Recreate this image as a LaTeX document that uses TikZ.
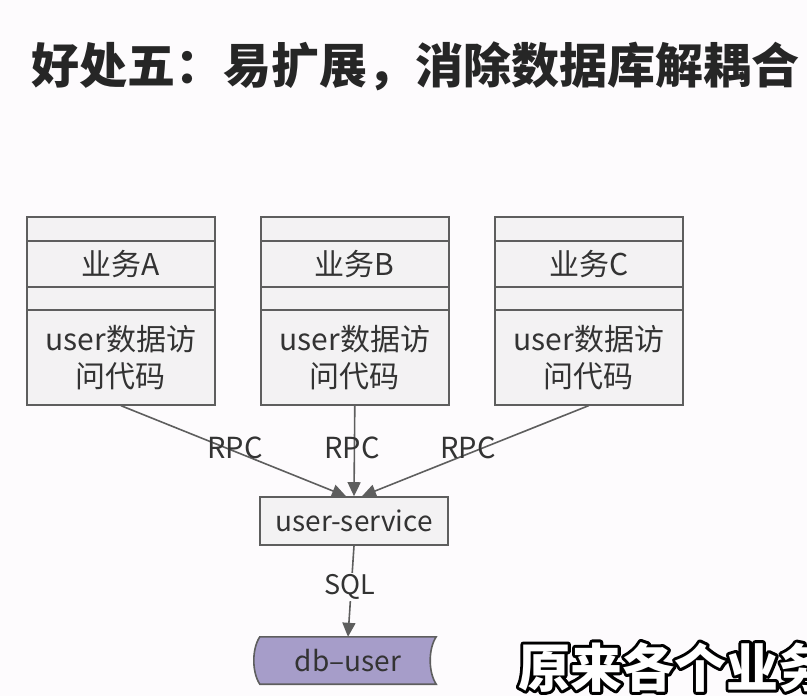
\documentclass[tikz,border=0pt]{standalone}
\usepackage{fontspec}
\setmainfont{Noto Sans CJK SC}
\usetikzlibrary{arrows.meta,calc}
\definecolor{bgcol}{HTML}{FDFBFD}
\definecolor{boxline}{HTML}{5E5E5E}
\definecolor{boxfill}{HTML}{F3F2F3}
\definecolor{txt}{HTML}{333333}
\definecolor{dbfill}{HTML}{A69DC9}
% white text with a black outline: a stroked copy under a filled one
\newcommand\outlinedtext[1]{%
  \rlap{\special{pdf:literal direct q 0 G 6 w 1 j 1 Tr}#1\special{pdf:literal direct 0 Tr Q}}%
  {\color{white}#1}}
\begin{document}
\begin{tikzpicture}[x=1pt,y=-1pt,
  row/.style={draw=boxline, line width=1.6pt, fill=boxfill, minimum width=188pt,
    inner sep=0pt, anchor=north west, text=txt, font=\fontsize{30}{37}\selectfont, align=center},
  svcbox/.style={draw=boxline, line width=1.6pt, fill=boxfill, minimum width=188pt,
    minimum height=48pt, inner sep=0pt, text=txt, font=\fontsize{28}{34}\selectfont},
  conn/.style={draw=boxline, line width=1.6pt, -{Triangle[length=14pt,width=13pt]}},
  lbl/.style={text=txt, font=\fontsize{29}{34}\selectfont, inner sep=1pt},
  subtxt/.style={anchor=base west, inner sep=0pt, font=\fontsize{52}{60}\selectfont\bfseries}]
% page
\fill[bgcol] (0,0) rectangle (807,696);
\useasboundingbox (0,0) rectangle (807,696);
\clip (0,0) rectangle (807,696);

% heading
\node[anchor=west, inner sep=0pt, text=black!85, font=\fontsize{48}{56}\selectfont\bfseries]
  (title) at (31,66) {好处五：易扩展，消除数据库解耦合};

% business modules, each a stack of four rows
\foreach \k/\x/\lab in {a/26/A, b/260/B, c/494/C}{
  \node[row, minimum height=24pt] (\k Top)  at (\x,216) {};
  \node[row, minimum height=46pt] (\k Name) at (\x,240) {业务\lab};
  \node[row, minimum height=23pt] (\k Gap)  at (\x,286) {};
  \node[row, minimum height=95pt] (\k Code) at (\x,309) {user数据访\\问代码};
}

% shared service
\node[svcbox] (svc) at (354,521) {user-service};

% RPC calls
\draw[conn] (aCode.south) -- ($(svc.north)+(-8,0)$);
\draw[conn] (bCode.south) -- (svc.north);
\draw[conn] (cCode.south) -- ($(svc.north)+(8,0)$);
\node[lbl] (rpcA) at (235,448) {RPC};
\node[lbl] (rpcB) at (352,448) {RPC};
\node[lbl] (rpcC) at (468,448) {RPC};

% database
\node[minimum width=176pt, minimum height=47pt, inner sep=0pt] (db) at (348,660.5) {};
\draw[draw=boxline, line width=1.6pt, fill=dbfill]
  (db.north west) -- (db.north east)
  .. controls ($(db.north east)+(-8,12)$) and ($(db.south east)+(-8,-12)$) .. (db.south east)
  -- (db.south west)
  .. controls ($(db.south west)+(-8,-12)$) and ($(db.north west)+(-8,12)$) .. (db.north west)
  -- cycle;
\node[text=txt, font=\fontsize{28}{34}\selectfont] (dbtxt) at (db) {db–user};

\draw[conn] (svc.south) -- (db.north);
\node[lbl, fill=bgcol, font=\fontsize{27}{32}\selectfont] (sql) at (350,587) {SQL};

% caption line, white with a black outline
\node[subtxt] (sub) at (518,687) {\outlinedtext{原来各个业务}};
\end{tikzpicture}
\end{document}
